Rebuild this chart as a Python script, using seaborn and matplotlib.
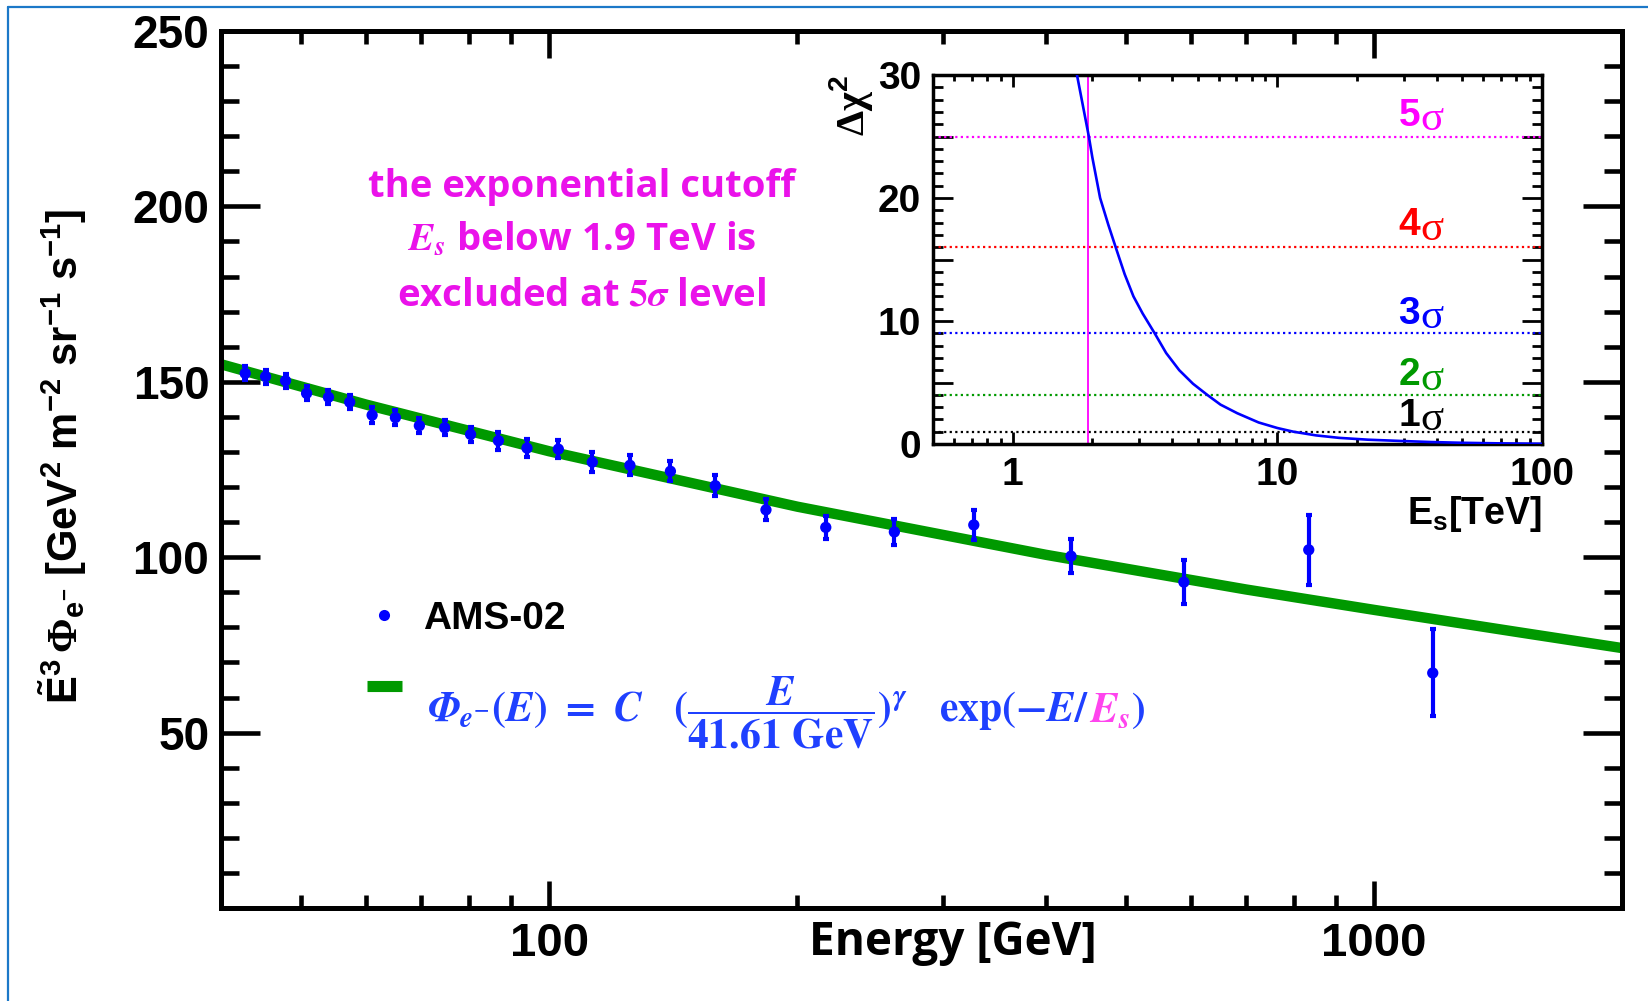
import matplotlib
matplotlib.use("Agg")
import matplotlib.pyplot as plt
import seaborn as sns
from matplotlib.lines import Line2D
from matplotlib.ticker import (FixedLocator, FuncFormatter, LogLocator,
                               NullFormatter, MultipleLocator)

# ---------------- data ----------------
ams_energy = [42.8, 45.3, 47.9, 50.8, 54.0, 57.3, 61.0, 65.1, 69.6, 74.7,
              80.3, 86.8, 94.0, 102.6, 112.8, 125.3, 140.3, 159.0, 183.2,
              216.5, 262.2, 327.3, 429.4, 588.5, 834.0, 1179.0]
ams_flux = [152.4, 151.5, 150.3, 146.7, 145.6, 144.2, 140.5, 139.8, 137.5,
            136.9, 135.0, 133.2, 131.1, 130.8, 127.1, 126.2, 124.5, 120.4,
            113.5, 108.5, 107.2, 109.2, 100.3, 92.9, 102.1, 67.0]
ams_err = [2.0, 2.0, 2.0, 2.0, 2.0, 2.0, 2.2, 2.2, 2.2, 2.2, 2.2, 2.5, 2.5,
           2.5, 2.8, 2.8, 2.8, 3.0, 3.0, 3.2, 3.6, 4.2, 4.9, 6.3, 10.0, 12.4]

fit_energy = [40, 60, 100, 200, 400, 700, 1000, 1500, 2000]
fit_flux = [155.0, 143.5, 130.2, 114.4, 100.7, 90.8, 85.0, 78.6, 74.1]

es_tev = [1.75, 1.94, 2.0, 2.14, 2.3, 2.45, 2.65, 2.86, 3.1, 3.44, 3.8, 4.26,
          4.8, 5.43, 6.1, 7.06, 8.5, 10.0, 11.5, 14.0, 17.1, 22.0, 29.0,
          38.0, 49.5, 70.0, 100.0]
dchi2 = [30, 25, 23.3, 20, 17.8, 16, 13.8, 12, 10.6, 9, 7.4, 6, 4.9, 4, 3.2,
         2.5, 1.75, 1.3, 1.0, 0.7, 0.5, 0.35, 0.25, 0.16, 0.1, 0.05, 0.02]

sigma_levels = [1, 4, 9, 16, 25]
sigma_names = ["1", "2", "3", "4", "5"]
sigma_label_y = [2.3, 5.6, 10.6, 17.8, 26.7]
sigma_colors = ["black", "#009900", "#0000FF", "#FF0000", "#FF00FF"]
es_limit = 1.93

x_major = [100, 1000]
y_major = [50, 100, 150, 200, 250]
inset_x_major = [1, 10, 100]

# ---------------- style ----------------
sns.set_theme(style="ticks")
plt.rcParams["font.family"] = ["Liberation Sans", "DejaVu Sans"]
plt.rcParams["font.weight"] = "bold"
plt.rcParams["axes.labelweight"] = "bold"
for k in ["text.color", "axes.labelcolor", "xtick.color", "ytick.color",
          "xtick.labelcolor", "ytick.labelcolor", "axes.edgecolor"]:
    plt.rcParams[k] = "black"
plt.rcParams["mathtext.fontset"] = "custom"
plt.rcParams["mathtext.rm"] = "Liberation Sans"
plt.rcParams["mathtext.bf"] = "Liberation Sans:bold"
plt.rcParams["mathtext.it"] = "Liberation Sans:italic"
plt.rcParams["mathtext.sf"] = "Liberation Serif"

W, H = 1649, 1001
fig = plt.figure(figsize=(W / 100, H / 100), dpi=100)
fig.patch.set_facecolor("white")

def fx(px):
    return px / W

def fy(py):
    return 1 - py / H

# ---------------- main axes ----------------
ax = fig.add_axes([fx(221), fy(908), fx(1622) - fx(221), fy(31) - fy(908)])
ax.set_facecolor("white")
ax.set_xscale("log")

green = "#009900"
sns.lineplot(x=fit_energy, y=fit_flux, ax=ax, color=green, lw=7.5,
             zorder=2, legend=False)
ax.errorbar(ams_energy, ams_flux, yerr=ams_err, fmt="none", ecolor="#0000FF",
            elinewidth=3, capsize=2.5, capthick=3, zorder=3)
sns.scatterplot(x=ams_energy, y=ams_flux, ax=ax, color="#0000FF", s=66,
                edgecolor="none", zorder=4, legend=False)

ax.set_xlim(40, 2000)
ax.set_ylim(0, 250)
for s in ax.spines.values():
    s.set_linewidth(3.6)
    s.set_color("black")
    s.set_visible(True)

ax.xaxis.set_major_locator(FixedLocator(x_major))
ax.xaxis.set_major_formatter(FuncFormatter(lambda v, p: f"{v:g}"))
ax.xaxis.set_minor_locator(LogLocator(base=10, subs=range(2, 10), numticks=20))
ax.xaxis.set_minor_formatter(NullFormatter())
ax.yaxis.set_major_locator(FixedLocator(y_major))
ax.yaxis.set_major_formatter(FuncFormatter(lambda v, p: f"{v:g}"))
ax.yaxis.set_minor_locator(MultipleLocator(10))

ax.tick_params(axis="both", which="both", direction="in", top=True,
               right=True, width=3.3, color="black", labelcolor="black")
ax.tick_params(axis="x", which="major", length=19.5, labelsize=34, pad=10)
ax.tick_params(axis="x", which="minor", length=9.5)
ax.tick_params(axis="y", which="major", length=28, labelsize=33, pad=8.4)
ax.tick_params(axis="y", which="minor", length=13)
for lab in ax.get_xticklabels() + ax.get_yticklabels():
    lab.set_fontweight("bold")

ax.set_xlabel("Energy [GeV]", fontfamily=["Open Sans", "DejaVu Sans"],
              fontweight="bold", fontsize=33, va="top")
ax.xaxis.set_label_coords(0.5225, -0.013)
ax.set_ylabel(r"$\mathbf{\tilde{E}^{3}}\,\mathsf{\Phi}_{\mathrm{e}^{-}}$"
              r" [GeV$^{\mathbf{2}}$ m$^{\mathbf{-2}}$ sr$^{\mathbf{-1}}$"
              r" s$^{\mathbf{-1}}$]", fontsize=30, fontweight="bold",
              va="center")
ax.yaxis.set_label_coords(-0.113, 0.515)

# legend
handles = [Line2D([], [], marker="o", ls="none", color="#0000FF",
                  markersize=8, markeredgewidth=0),
           Line2D([], [], color=green, lw=8, solid_capstyle="butt")]
leg = ax.legend(handles=handles, labels=["AMS-02", " "], loc="upper left",
                bbox_to_anchor=(fx(367), fy(601)),
                bbox_transform=fig.transFigure, frameon=False,
                prop={"family": "Liberation Sans", "weight": "bold",
                      "size": 28},
                handlelength=0.9, handletextpad=0.55, labelspacing=0.88,
                borderpad=0, borderaxespad=0)

# annotation text
mag = "#EA12EA"
ann_font = ["Open Sans", "DejaVu Sans"]
fig.text(fx(582), fy(197), "the exponential cutoff", color=mag,
         fontfamily=ann_font, fontweight="bold", fontsize=27.5,
         ha="center", va="baseline")
fig.text(fx(582), fy(250), r"$\mathbfit{E_s}$ below 1.9 TeV is", color=mag,
         fontfamily=ann_font, fontweight="bold", fontsize=27.5,
         ha="center", va="baseline", math_fontfamily="stix")
fig.text(fx(582), fy(305), r"excluded at $\mathbf{5}\mathbfit{\sigma}$ level",
         color=mag, fontfamily=ann_font, fontweight="bold", fontsize=27.5,
         ha="center", va="baseline", math_fontfamily="stix")

# formula (legend label for the fit)
blue_eq = "#1F40FF"
eq_size = 30
eq_main = (r"$\mathbfit{\Phi}_{\mathbfit{e}^{-}}\mathbf{(}\mathbfit{E}\mathbf{)}"
           r"\ \mathbf{=}\ \mathbfit{C}\ \ \ \mathbf{(}"
           r"\dfrac{\mathbfit{E}}{\mathbf{41.61\ GeV}}\mathbf{)}^{\mathbfit{\gamma}}"
           r"\ \ \ \mathbf{exp(-}\mathbfit{E}\mathbf{/}$")
t1 = fig.text(fx(427), fy(722), eq_main, color=blue_eq, fontsize=eq_size,
              math_fontfamily="stix", ha="left", va="baseline")
fig.canvas.draw()
rend = fig.canvas.get_renderer()
bb1 = t1.get_window_extent(rend)
t2 = fig.text(bb1.x1 / fig.bbox.width, fy(722), r"$\mathbfit{E}_{\mathbfit{s}}$",
              color="#FF44EE", fontsize=eq_size, math_fontfamily="stix",
              ha="left", va="baseline")
bb2 = t2.get_window_extent(rend)
fig.text(bb2.x1 / fig.bbox.width, fy(722), r"$\mathbf{)}$", color=blue_eq,
         fontsize=eq_size, math_fontfamily="stix", ha="left", va="baseline")

# ---------------- inset ----------------
axi = fig.add_axes([fx(933), fy(444), fx(1542) - fx(933), fy(75) - fy(444)])
axi.set_facecolor("white")
axi.set_xscale("log")
for lvl, col in zip(sigma_levels, sigma_colors):
    axi.axhline(lvl, color=col, ls=(0, (1, 1.5)), lw=1.6, zorder=1)
axi.axvline(es_limit, color="#FF00FF", lw=1.3, zorder=2)
sns.lineplot(x=es_tev, y=dchi2, ax=axi, color="#0000FF", lw=1.9, zorder=3,
             legend=False)
for nm, yy, col in zip(sigma_names, sigma_label_y, sigma_colors):
    axi.text(34.6, yy, nm, color=col, fontsize=28, fontweight="bold",
             ha="right", va="center")
    axi.text(34.6, yy - 0.35, "σ", color=col, fontsize=31,
             fontfamily=["Liberation Serif", "DejaVu Serif"],
             fontweight="normal", ha="left", va="center")

axi.set_xlim(0.5, 100)
axi.set_ylim(0, 30)
for s in axi.spines.values():
    s.set_linewidth(2.5)
    s.set_color("black")
    s.set_visible(True)
axi.xaxis.set_major_locator(FixedLocator(inset_x_major))
axi.xaxis.set_major_formatter(FuncFormatter(lambda v, p: f"{v:g}"))
axi.xaxis.set_minor_locator(LogLocator(base=10, subs=range(2, 10), numticks=20))
axi.xaxis.set_minor_formatter(NullFormatter())
axi.yaxis.set_major_locator(MultipleLocator(5))
axi.yaxis.set_major_formatter(
    FuncFormatter(lambda v, p: f"{v:g}" if abs(v % 10) < 1e-6 else ""))
axi.yaxis.set_minor_locator(MultipleLocator(1))
axi.tick_params(axis="both", which="both", direction="in", top=True,
                right=True, width=2.0, color="black", labelcolor="black")
axi.tick_params(axis="x", which="major", length=8.5, labelsize=28, pad=9)
axi.tick_params(axis="x", which="minor", length=4.5)
axi.tick_params(axis="y", which="major", length=14.5, labelsize=28, pad=8.4)
axi.tick_params(axis="y", which="minor", length=7.5)
for lab in axi.get_xticklabels() + axi.get_yticklabels():
    lab.set_fontweight("bold")
axi.set_xlabel(r"E$_{\mathbf{s}}$[TeV]", fontsize=27, fontweight="bold",
               loc="right")
axi.xaxis.set_label_coords(1.0, -0.135)
axi.set_ylabel(r"$\mathsf{\Delta\chi}^{\mathbf{2}}$", fontsize=29, loc="top")
axi.yaxis.set_label_coords(-0.095, 1.0)

# ---------------- frame lines ----------------
frame_col = "#1C78C8"
fig.add_artist(Line2D([fx(8), fx(8)], [0, fy(7)], transform=fig.transFigure,
                      color=frame_col, lw=1.6))
fig.add_artist(Line2D([fx(8), 1], [fy(7), fy(7)], transform=fig.transFigure,
                      color=frame_col, lw=1.6))

fig.savefig("out.png", dpi=100)
